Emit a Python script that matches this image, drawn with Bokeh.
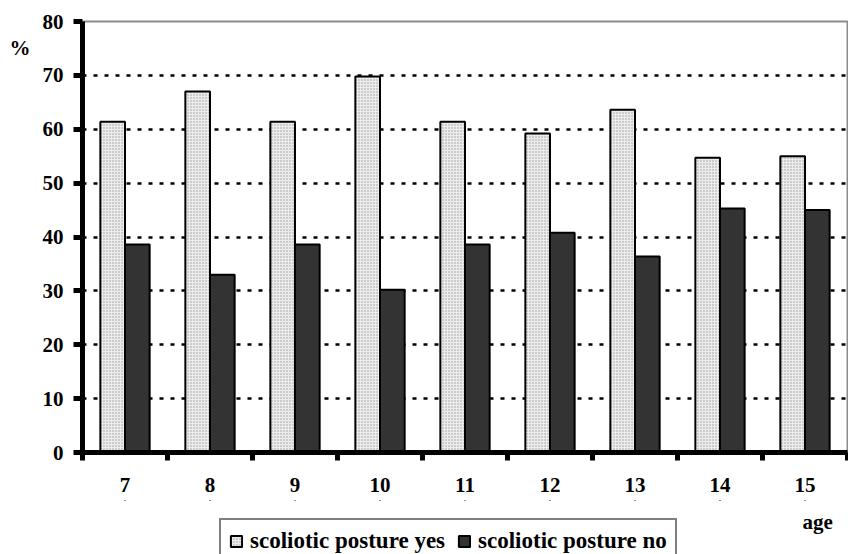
from bokeh.plotting import figure
from bokeh.models import (Range1d, FixedTicker, Legend, LegendItem, LinearAxis,
                          ColumnDataSource)
from bokeh.layouts import column
from bokeh.core.properties import value
from bokeh.transform import dodge
from bokeh.embed import file_html
from bokeh.resources import INLINE

ages = [7, 8, 9, 10, 11, 12, 13, 14, 15]
posture_yes = [61.4, 67.0, 61.4, 69.8, 61.4, 59.2, 63.6, 54.7, 55.0]
posture_no = [38.6, 33.0, 38.6, 30.2, 38.6, 40.8, 36.4, 45.3, 45.0]
y_ticks = [0, 10, 20, 30, 40, 50, 60, 70, 80]
boundaries = [a - 0.5 for a in ages] + [ages[-1] + 0.5]
series_labels = ["scoliotic posture yes", "scoliotic posture no"]
y_unit = "%"
x_title = "age"

FONT = "Liberation Serif"
YES_STYLE = dict(fill_color="#ececec", line_color="black", line_width=2,
                 hatch_pattern="dot", hatch_color="#9a9a9a", hatch_scale=3,
                 hatch_weight=1)
NO_STYLE = dict(fill_color="#333333", line_color="black", line_width=2)

src = ColumnDataSource(dict(age=ages, yes=posture_yes, no=posture_no))

p = figure(width=848, height=500, output_backend="svg", toolbar_location=None,
           x_range=Range1d(ages[0] - 0.5, ages[-1] + 0.5),
           y_range=Range1d(0, 80),
           min_border_left=82, min_border_right=1, min_border_top=21,
           min_border_bottom=48)
p.background_fill_color = "white"
p.border_fill_color = "white"
p.outline_line_color = "#8c8c8c"
p.outline_line_width = 2

# grid
p.xgrid.grid_line_color = None
p.ygrid.ticker = FixedTicker(ticks=y_ticks)
p.ygrid.grid_line_color = "black"
p.ygrid.grid_line_width = 2.5
p.ygrid.grid_line_dash = "4 7"

bw = 0.29
p.vbar(x=dodge("age", -0.145, range=p.x_range), top="yes", width=bw,
       source=src, **YES_STYLE)
p.vbar(x=dodge("age", 0.145, range=p.x_range), top="no", width=bw,
       source=src, **NO_STYLE)

# y axis
ya = p.yaxis[0]
ya.ticker = FixedTicker(ticks=y_ticks)
ya.axis_line_width = 5
ya.axis_line_color = "black"
ya.major_tick_line_width = 5
ya.major_tick_out = 9
ya.major_tick_in = 0
ya.minor_tick_line_color = None
ya.major_label_standoff = 10
ya.major_label_text_font = FONT
ya.major_label_text_font_style = "bold"
ya.major_label_text_font_size = "21px"
ya.major_label_text_color = "black"

# "%" unit label as an extra left axis with a single tick
unit_axis = LinearAxis(ticker=FixedTicker(ticks=[75]),
                       major_label_overrides={75: y_unit},
                       axis_line_color=None, major_tick_line_color=None,
                       minor_tick_line_color=None, major_tick_out=0,
                       major_tick_in=0, major_label_standoff=9,
                       major_label_text_font=FONT,
                       major_label_text_font_style="bold",
                       major_label_text_font_size="21px",
                       major_label_text_color="black")
p.add_layout(unit_axis, "left")

# x axis
xa = p.xaxis[0]
xa.ticker = FixedTicker(ticks=ages, minor_ticks=boundaries)
xa.axis_line_width = 5
xa.axis_line_color = "black"
xa.major_tick_line_color = None
xa.major_tick_out = 0
xa.major_tick_in = 0
xa.minor_tick_line_width = 5
xa.minor_tick_line_color = "black"
xa.minor_tick_out = 8
xa.minor_tick_in = 0
xa.major_label_standoff = 17
xa.major_label_text_font = FONT
xa.major_label_text_font_style = "bold"
xa.major_label_text_font_size = "21px"
xa.major_label_text_color = "black"

# bottom strip: legend and "age" title (same horizontal scale as the chart).
# Its y-range sits far below zero so the legend proxy bars fall far off-page.
q = figure(width=848, height=54, output_backend="svg", toolbar_location=None,
           x_range=p.x_range, y_range=Range1d(-1054, -1000),
           min_border_left=82, min_border_right=1, min_border_top=0,
           min_border_bottom=0, outline_line_color=None)
q.axis.visible = False
q.grid.visible = False
q.background_fill_color = "white"
q.border_fill_color = "white"
q.text(x=[15.15], y=[-1021], text=[x_title], text_font=value(FONT),
       text_font_style="bold", text_font_size="21px", text_align="center",
       text_baseline="middle", text_color="black")

# legend proxies: degenerate bars located off-page
g_yes = q.vbar(x="age", top="yes", bottom="yes", width=0, source=src,
               **YES_STYLE)
g_no = q.vbar(x="age", top="no", bottom="no", width=0, source=src,
              **NO_STYLE)

legend = Legend(items=[LegendItem(label=series_labels[0], renderers=[g_yes]),
                       LegendItem(label=series_labels[1], renderers=[g_no])],
                orientation="horizontal", location=(137, -10),
                label_text_font=FONT, label_text_font_style="bold",
                label_text_font_size="23px", label_text_color="black",
                label_standoff=7, glyph_width=14, glyph_height=14, spacing=12,
                padding=8, margin=0,
                border_line_color="black", border_line_width=2,
                background_fill_color="white", background_fill_alpha=1)
q.add_layout(legend, "center")

layout = column(p, q, spacing=0)
open("out.html", "w").write(file_html(layout, INLINE))
